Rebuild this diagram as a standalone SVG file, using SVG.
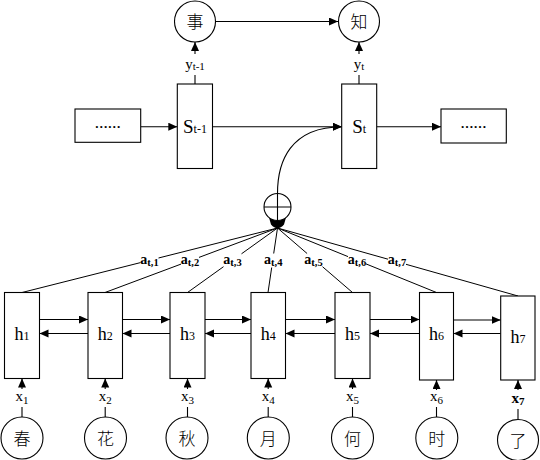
<svg xmlns="http://www.w3.org/2000/svg" width="540" height="460" viewBox="0 0 540 460">
<defs>
<marker id="ah" markerUnits="userSpaceOnUse" markerWidth="10" markerHeight="9" refX="9" refY="4" orient="auto">
<path d="M0,0 L9,4 L0,8 Z" fill="#000"/>
</marker>
<style>
.box{fill:#fff;stroke:#000;stroke-width:1.1}
.cir{fill:#fff;stroke:#000;stroke-width:1.1}
.ln{fill:none;stroke:#000;stroke-width:1.1}
.ar{fill:none;stroke:#000;stroke-width:1.1;marker-end:url(#ah)}
.at{fill:none;stroke:#000;stroke-width:1}
.t{font-family:"Liberation Serif","Noto Sans CJK SC",serif;fill:#000;text-anchor:middle}
.cj{font-family:"Noto Sans CJK SC","Liberation Serif",serif;font-size:17px;font-weight:300;fill:#000;text-anchor:middle}
.h{font-size:18px}
.s{font-size:12px}
.a{font-size:14px;font-weight:bold}
.as{font-size:10.5px;font-weight:bold}
</style>
</defs>
<rect width="540" height="460" fill="#fff"/>

<g id="connectors">
<line class="ar" x1="215.5" y1="21.5" x2="338" y2="21.5"/>
<line class="ar" x1="195" y1="54" x2="195" y2="42"/>
<line class="ar" x1="359" y1="54" x2="359" y2="42"/>
<line class="ln" x1="195" y1="75" x2="195" y2="84"/>
<line class="ln" x1="359" y1="75" x2="359" y2="84"/>
<line class="ar" x1="140.7" y1="126.7" x2="177.3" y2="126.7"/>
<line class="ar" x1="212.5" y1="126.7" x2="341.7" y2="126.7"/>
<line class="ar" x1="376.7" y1="126.7" x2="441" y2="126.7"/>
<path class="ar" d="M277.5,193.5 C277.5,162 290,127 341.7,126.7"/>

<path class="at" d="M277.5,228 L158.5,258 M140.5,262.6 L22,292.5"/>
<path class="at" d="M277.5,228 L199,257.4 M181,264.1 L105,292.5"/>
<path class="at" d="M277.5,228 L241.5,253.8 M223.5,266.7 L187.5,292.5"/>
<path class="at" d="M277.5,228 L273.7,253.5 M271.7,267.5 L268,292.5"/>
<path class="at" d="M277.5,228 L307.1,253.5 M322.5,266.7 L352.5,292.5"/>
<path class="at" d="M277.5,228 L348,256.6 M366,263.9 L436.5,292.5"/>
<path class="at" d="M277.5,228 L388,259.2 M406,264.3 L518,296"/>
<path d="M269,217.5 A13.5,13.5 0 0 0 286,217.5 L284,224.5 Q277.5,232 271,224.5 Z" fill="#000"/>

<line class="ar" x1="39.5" y1="319.5" x2="88" y2="319.5"/>
<line class="ar" x1="122.5" y1="319.5" x2="170" y2="319.5"/>
<line class="ar" x1="205" y1="319.5" x2="251" y2="319.5"/>
<line class="ar" x1="285.5" y1="319.5" x2="335" y2="319.5"/>
<line class="ar" x1="370" y1="319.5" x2="419.5" y2="319.5"/>
<line class="ar" x1="453.5" y1="320" x2="500.7" y2="320"/>
<line class="ar" x1="88" y1="333.5" x2="39.5" y2="333.5"/>
<line class="ar" x1="170" y1="333.5" x2="122.5" y2="333.5"/>
<line class="ar" x1="251" y1="333.5" x2="205" y2="333.5"/>
<line class="ar" x1="335" y1="333.5" x2="285.5" y2="333.5"/>
<line class="ar" x1="419.5" y1="333.5" x2="370" y2="333.5"/>
<line class="ar" x1="500.7" y1="333.5" x2="453.5" y2="333.5"/>

<line class="ar" x1="22" y1="389" x2="22" y2="378.5"/>
<line class="ar" x1="105.2" y1="389" x2="105.2" y2="378.5"/>
<line class="ar" x1="187.5" y1="389" x2="187.5" y2="378.5"/>
<line class="ar" x1="268.2" y1="389" x2="268.2" y2="378.5"/>
<line class="ar" x1="352.5" y1="389" x2="352.5" y2="378.5"/>
<line class="ar" x1="436.5" y1="390" x2="436.5" y2="380"/>
<line class="ar" x1="518" y1="390" x2="518" y2="380"/>
<line class="ln" x1="22" y1="407" x2="22" y2="417"/>
<line class="ln" x1="105.2" y1="407" x2="105.2" y2="417"/>
<line class="ln" x1="187.5" y1="407" x2="187.5" y2="417"/>
<line class="ln" x1="268.2" y1="407" x2="268.2" y2="417"/>
<line class="ln" x1="352.5" y1="407" x2="352.5" y2="417"/>
<line class="ln" x1="436.5" y1="407" x2="436.5" y2="417"/>
<line class="ln" x1="518" y1="409" x2="518" y2="419.5"/>
</g>

<g id="att-labels">
<text class="t" x="149.5" y="263.5"><tspan class="a">a</tspan><tspan class="as" dy="2.5">t,1</tspan></text>
<text class="t" x="190" y="263.5"><tspan class="a">a</tspan><tspan class="as" dy="2.5">t,2</tspan></text>
<text class="t" x="232.5" y="263.5"><tspan class="a">a</tspan><tspan class="as" dy="2.5">t,3</tspan></text>
<text class="t" x="273.3" y="263.5"><tspan class="a">a</tspan><tspan class="as" dy="2.5">t,4</tspan></text>
<text class="t" x="313.5" y="263.5"><tspan class="a">a</tspan><tspan class="as" dy="2.5">t,5</tspan></text>
<text class="t" x="357" y="263.5"><tspan class="a">a</tspan><tspan class="as" dy="2.5">t,6</tspan></text>
<text class="t" x="397" y="263.5"><tspan class="a">a</tspan><tspan class="as" dy="2.5">t,7</tspan></text>
</g>

<g id="y-shi"><circle class="cir" cx="195" cy="21.5" r="20.5"/><text class="cj" x="195" y="28">事</text></g>
<g id="y-zhi"><circle class="cir" cx="359" cy="21.5" r="20.5"/><text class="cj" x="359" y="28">知</text></g>
<g id="label-yt-1"><text class="t" x="195" y="69"><tspan style="font-size:15px">y</tspan><tspan style="font-size:11px" dy="1">t-1</tspan></text></g>
<g id="label-yt"><text class="t" x="359" y="69"><tspan style="font-size:15px">y</tspan><tspan style="font-size:11px" dy="1">t</tspan></text></g>

<g id="dots-left"><rect class="box" x="75" y="109" width="65.7" height="33.3"/><text class="t" x="107.8" y="128" style="font-size:13px;font-weight:bold">……</text></g>
<g id="s-t-1"><rect class="box" x="177.3" y="84" width="35.2" height="84.5"/><text class="t" x="195" y="133"><tspan style="font-size:19px">S</tspan><tspan style="font-size:12px">t-1</tspan></text></g>
<g id="s-t"><rect class="box" x="341.7" y="84" width="35" height="84.5"/><text class="t" x="359.2" y="133"><tspan style="font-size:19px">S</tspan><tspan style="font-size:12px">t</tspan></text></g>
<g id="dots-right"><rect class="box" x="441" y="109" width="65.3" height="34"/><text class="t" x="473.6" y="128" style="font-size:13px;font-weight:bold">……</text></g>

<g id="sum"><circle class="cir" cx="277.5" cy="207" r="13.5"/><path class="ln" d="M264,207 H291 M277.5,193.5 V220.5"/></g>

<g id="h1"><rect class="box" x="4.5" y="292.5" width="35" height="86"/><text class="t" x="22" y="340"><tspan class="h">h</tspan><tspan class="s">1</tspan></text></g>
<g id="h2"><rect class="box" x="88" y="292.5" width="34.5" height="86"/><text class="t" x="105.2" y="340"><tspan class="h">h</tspan><tspan class="s">2</tspan></text></g>
<g id="h3"><rect class="box" x="170" y="292.5" width="35" height="86"/><text class="t" x="187.5" y="340"><tspan class="h">h</tspan><tspan class="s">3</tspan></text></g>
<g id="h4"><rect class="box" x="251" y="292.5" width="34.5" height="86"/><text class="t" x="268.2" y="340"><tspan class="h">h</tspan><tspan class="s">4</tspan></text></g>
<g id="h5"><rect class="box" x="335" y="292.5" width="35" height="86"/><text class="t" x="352.5" y="340"><tspan class="h">h</tspan><tspan class="s">5</tspan></text></g>
<g id="h6"><rect class="box" x="419.5" y="292.5" width="34" height="87.5"/><text class="t" x="436.5" y="340"><tspan class="h">h</tspan><tspan class="s">6</tspan></text></g>
<g id="h7"><rect class="box" x="500.7" y="296" width="34.3" height="84"/><text class="t" x="517.9" y="343"><tspan class="h">h</tspan><tspan class="s">7</tspan></text></g>

<g id="x-labels">
<text class="t" x="22" y="401"><tspan style="font-size:15px">x</tspan><tspan style="font-size:11px" dy="3">1</tspan></text>
<text class="t" x="105.2" y="401"><tspan style="font-size:15px">x</tspan><tspan style="font-size:11px" dy="3">2</tspan></text>
<text class="t" x="187.5" y="401"><tspan style="font-size:15px">x</tspan><tspan style="font-size:11px" dy="3">3</tspan></text>
<text class="t" x="268.2" y="401"><tspan style="font-size:15px">x</tspan><tspan style="font-size:11px" dy="3">4</tspan></text>
<text class="t" x="352.5" y="401"><tspan style="font-size:15px">x</tspan><tspan style="font-size:11px" dy="3">5</tspan></text>
<text class="t" x="436.5" y="401"><tspan style="font-size:15px">x</tspan><tspan style="font-size:11px" dy="3">6</tspan></text>
<text class="t" x="518" y="403" style="font-weight:bold"><tspan style="font-size:15px">x</tspan><tspan style="font-size:11px" dy="2">7</tspan></text>
</g>

<g id="w-chun"><circle class="cir" cx="22" cy="438" r="21"/><text class="cj" x="22" y="444.5">春</text></g>
<g id="w-hua"><circle class="cir" cx="105.5" cy="438" r="21"/><text class="cj" x="105.5" y="444.5">花</text></g>
<g id="w-qiu"><circle class="cir" cx="187" cy="438" r="21"/><text class="cj" x="187" y="444.5">秋</text></g>
<g id="w-yue"><circle class="cir" cx="268.3" cy="438" r="21"/><text class="cj" x="268.3" y="444.5">月</text></g>
<g id="w-he"><circle class="cir" cx="352.5" cy="438" r="21"/><text class="cj" x="352.5" y="444.5">何</text></g>
<g id="w-shi"><circle class="cir" cx="436.8" cy="438" r="21"/><text class="cj" x="436.8" y="444.5">时</text></g>
<g id="w-le"><circle class="cir" cx="518" cy="440" r="20.5"/><text class="cj" x="518" y="446.5">了</text></g>
</svg>
